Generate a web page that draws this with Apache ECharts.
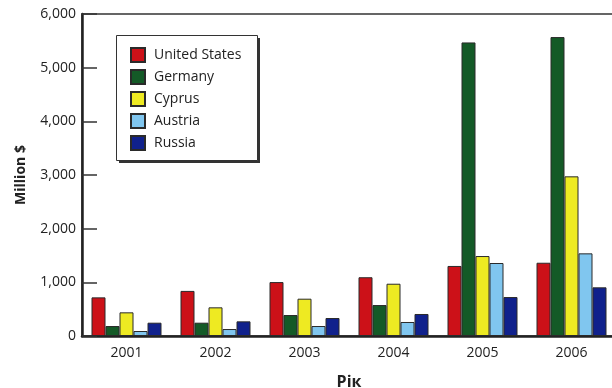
<!DOCTYPE html>
<html>
<head>
<meta charset="utf-8">
<script src="https://cdn.jsdelivr.net/npm/echarts@6/dist/echarts.min.js"></script>
<style>html,body{margin:0;padding:0;background:#fff}#c{width:612px;height:388px}</style>
</head>
<body>
<div id="c"></div>
<script>
var years = ['2001', '2002', '2003', '2004', '2005', '2006'];
var seriesNames = ['United States', 'Germany', 'Cyprus', 'Austria', 'Russia'];
var unitedStates = [720, 840, 1005, 1095, 1305, 1365];
var germany = [186, 248, 391, 577, 5470, 5570];
var cyprus = [441, 534, 695, 974, 1490, 2975];
var austria = [93, 130, 186, 261, 1360, 1540];
var russia = [248, 273, 335, 410, 726, 907];
var colors = ['#cc1118', '#145a27', '#eeea22', '#80c6ef', '#10218c'];
var allValues = [unitedStates, germany, cyprus, austria, russia];

var font = 'Open Sans';
var chart = echarts.init(document.getElementById('c'), null, {renderer: 'canvas'});
var series = seriesNames.map(function (n, i) {
  return {
    name: n, type: 'bar', data: allValues[i], barWidth: 14, barGap: '0%',
    large: false, progressive: 0,
    itemStyle: {color: colors[i], borderColor: '#2a2a2a', borderWidth: 1, borderRadius: 0},
    emphasis: {disabled: true}
  };
});
chart.setOption({
  animation: false,
  backgroundColor: '#fff',
  grid: {left: 82, right: -4, top: 14, bottom: 52, outerBoundsMode: 'none', containLabel: false,
    show: true, borderColor: '#333', borderWidth: 1.5, backgroundColor: 'transparent'},
  graphic: [
    {type: 'rect', left: 119, top: 38, z: 5, shape: {width: 141, height: 125}, style: {fill: '#333'}},
    {type: 'rect', left: 116, top: 35, z: 6, shape: {width: 141, height: 125}, style: {fill: '#fff', stroke: '#333', lineWidth: 1}}
  ],
  legend: {
    orient: 'vertical', left: 116, top: 35, padding: [12, 14, 11, 14], z: 10,
    itemWidth: 14, itemHeight: 14, itemGap: 6,
    textStyle: {fontFamily: font, fontSize: 14, color: '#222', padding: [0, 0, 0, 4]},
    icon: 'rect',
    data: seriesNames
  },
  xAxis: {
    type: 'category', data: years,
    name: 'Рік', nameLocation: 'middle', nameGap: 38,
    nameTextStyle: {fontFamily: font, fontSize: 16, fontWeight: 'bold', color: '#222'},
    axisLine: {lineStyle: {color: '#222', width: 2.5}},
    axisTick: {inside: true, length: 14, lineStyle: {color: '#333', width: 1.5}, alignWithLabel: false},
    axisLabel: {fontFamily: font, fontSize: 14, color: '#222', margin: 10}
  },
  yAxis: {
    type: 'value', min: 0, max: 6000, interval: 1000,
    name: 'Million $', nameLocation: 'middle', nameGap: 54,
    nameTextStyle: {fontFamily: font, fontSize: 14, fontWeight: 'bold', color: '#222'},
    axisLine: {show: true, lineStyle: {color: '#222', width: 2.5}},
    axisTick: {show: true, inside: true, length: 15, lineStyle: {color: '#333', width: 1.5}},
    splitLine: {show: false},
    axisLabel: {fontFamily: font, fontSize: 14, color: '#222', margin: 6,
      formatter: function (v) { return v.toLocaleString('en-US'); }}
  },
  series: series
});
</script>
</body>
</html>
